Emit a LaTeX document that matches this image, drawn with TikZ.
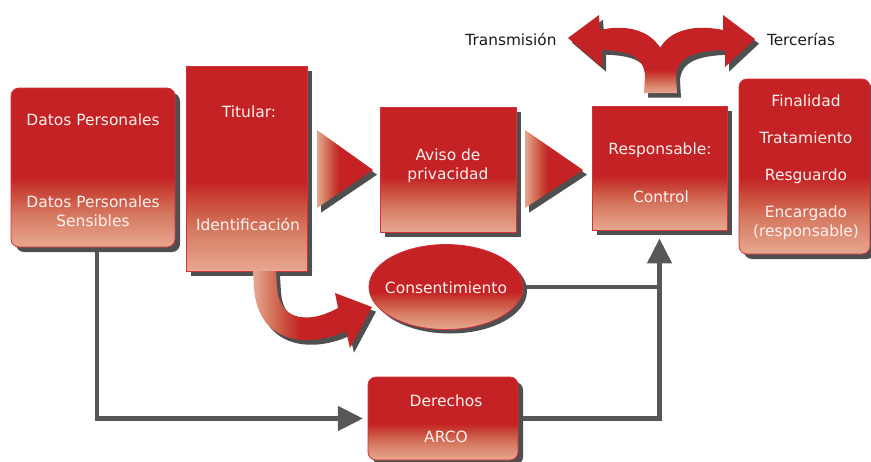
\documentclass[tikz,border=0pt]{standalone}
\usepackage{fontspec}
\setmainfont{DejaVu Sans}
\usetikzlibrary{shapes.geometric,shadows,arrows.meta}
\definecolor{mainred}{HTML}{C42224}
\definecolor{fadebot}{HTML}{E8A890}
\definecolor{fademid}{HTML}{D67A62}
\definecolor{fadedark}{HTML}{C9493A}
\definecolor{shadowgray}{HTML}{4F4F4F}
\definecolor{linegray}{HTML}{575757}
\definecolor{bordercol}{HTML}{D3313C}
\definecolor{lighttext}{HTML}{FBF2F0}
\definecolor{darktext}{HTML}{1A1A1A}
\pgfdeclareverticalshading{vfade}{100bp}{color(0bp)=(fadebot); color(25bp)=(fadebot); color(35bp)=(fademid); color(42bp)=(fadedark); color(47bp)=(mainred); color(100bp)=(mainred)}
\pgfdeclareverticalshading{vfadeshort}{100bp}{color(0bp)=(fadebot); color(25bp)=(fadebot); color(31bp)=(fademid); color(36bp)=(fadedark); color(40bp)=(mainred); color(100bp)=(mainred)}
\pgfdeclarehorizontalshading{hfade}{100bp}{color(0bp)=(fadebot); color(25bp)=(fadebot); color(32bp)=(fademid); color(39bp)=(fadedark); color(45bp)=(mainred); color(100bp)=(mainred)}
\pgfdeclarelayer{connlayer}
\pgfsetlayers{connlayer,main}
\tikzset{
  redbox/.style={rectangle, shade, shading=vfade, draw=bordercol, line width=0.6pt, inner sep=0pt,
    general shadow={fill=shadowgray, shadow xshift=3.75pt, shadow yshift=-3.75pt}},
  redoval/.style={ellipse, shade, shading=vfade, draw=bordercol, line width=0.6pt, inner sep=0pt,
    general shadow={fill=shadowgray, shadow xshift=3pt, shadow yshift=-3pt}},
  redshape/.style={shade, shading=#1,
    general shadow={fill=shadowgray, shadow xshift=3pt, shadow yshift=-3.5pt}},
  lbl/.style={text=lighttext, font=\fontsize{11.6pt}{14.3pt}\selectfont, align=center, inner sep=0pt},
  dlbl/.style={text=darktext, font=\fontsize{11.5pt}{14pt}\selectfont, inner sep=0pt},
  conn/.style={draw=linegray, line width=3.4pt},
  bigtip/.style={-{Triangle[length=18.75pt,width=18pt]}}
}
\begin{document}
\begin{tikzpicture}[x=0.75pt,y=-0.75pt]
\useasboundingbox (0,0) rectangle (871,461);

% boxes
\node[redbox, rounded corners=6pt, minimum width=123pt, minimum height=119.25pt] (datos) at (93,167.5) {};
\node[redbox, minimum width=90.75pt, minimum height=153.75pt] (titular) at (246.5,168.5) {};
\node[redbox, minimum width=102pt, minimum height=93.75pt] (aviso) at (448,169.5) {};
\node[redbox, minimum width=101.25pt, minimum height=93pt] (resp) at (659.5,168) {};
\node[redbox, rounded corners=6pt, minimum width=98.25pt, minimum height=131.25pt] (final) at (804.5,166.5) {};
\node[redbox, rounded corners=6pt, minimum width=112.5pt, minimum height=62.25pt] (derechos) at (443,418.5) {};
\node[redoval, minimum width=115.5pt, minimum height=63.75pt] (cons) at (446,287) {};

% connectors, under the boxes
\begin{pgfonlayer}{connlayer}
\coordinate (dstart) at ([xshift=3pt]datos.south);
\coordinate (junc) at (cons.east -| resp.south);
\draw[conn, bigtip, shorten >=3.5pt] (dstart) |- (derechos.west);
\draw[conn] (cons.east) -- (junc);
\draw[conn, bigtip, shorten >=6pt] (derechos.east) -| (resp.south);
\end{pgfonlayer}

% triangles
\shade[redshape=hfade] (317,130) -- (373,170) -- (317,208) -- cycle;
\shade[redshape=hfade] (525,130) -- (583,170) -- (525,208) -- cycle;

% split arrow above Responsable
\shade[redshape=vfadeshort] (644,93) -- (645,76) .. controls (644,56) and (628,51) .. (602,50)
  -- (602,67) -- (568,38) -- (599,15) -- (600,30)
  .. controls (625,24) and (650,30) .. (660,48)
  .. controls (670,30) and (695,24) .. (723,30)
  -- (723,15) -- (755,39) -- (725,67) -- (725,50)
  .. controls (696,51) and (677,56) .. (676,76) -- (677,93) -- cycle;

% curved arrow from Titular to Consentimiento
\shade[redshape=hfade] (253,271) -- (276,271) -- (277,288)
  .. controls (279,318) and (305,326) .. (338,308)
  -- (335,293) -- (372,307) -- (350,348) -- (346,331)
  .. controls (310,348) and (258,345) .. (254,288) -- cycle;

% labels
\node[lbl] (l1) at (93,120) {Datos Personales};
\node[lbl] (l2) at (93,211.5) {Datos Personales\\Sensibles};
\node[lbl] (l3) at (249,112) {Titular:};
\node[lbl] (l4) at (248,224) {Identificación};
\node[lbl] (l5) at (448,166) {Aviso de\\privacidad};
\node[lbl] (l6) at (660,150) {Responsable:};
\node[lbl] (l7) at (661,197) {Control};
\node[lbl] (l8) at (806,101) {Finalidad};
\node[lbl] (l9) at (806,138) {Tratamiento};
\node[lbl] (l10) at (806,176) {Resguardo};
\node[lbl] (l11) at (806,222.5) {Encargado\\(responsable)};
\node[lbl] (l12) at (446,288) {Consentimiento};
\node[lbl] (l13) at (446,401) {Derechos};
\node[lbl] (l14) at (446,437) {ARCO};
\node[dlbl] (l15) at (511,39) {Transmisión};
\node[dlbl] (l16) at (801,39) {Tercerías};
\end{tikzpicture}
\end{document}
